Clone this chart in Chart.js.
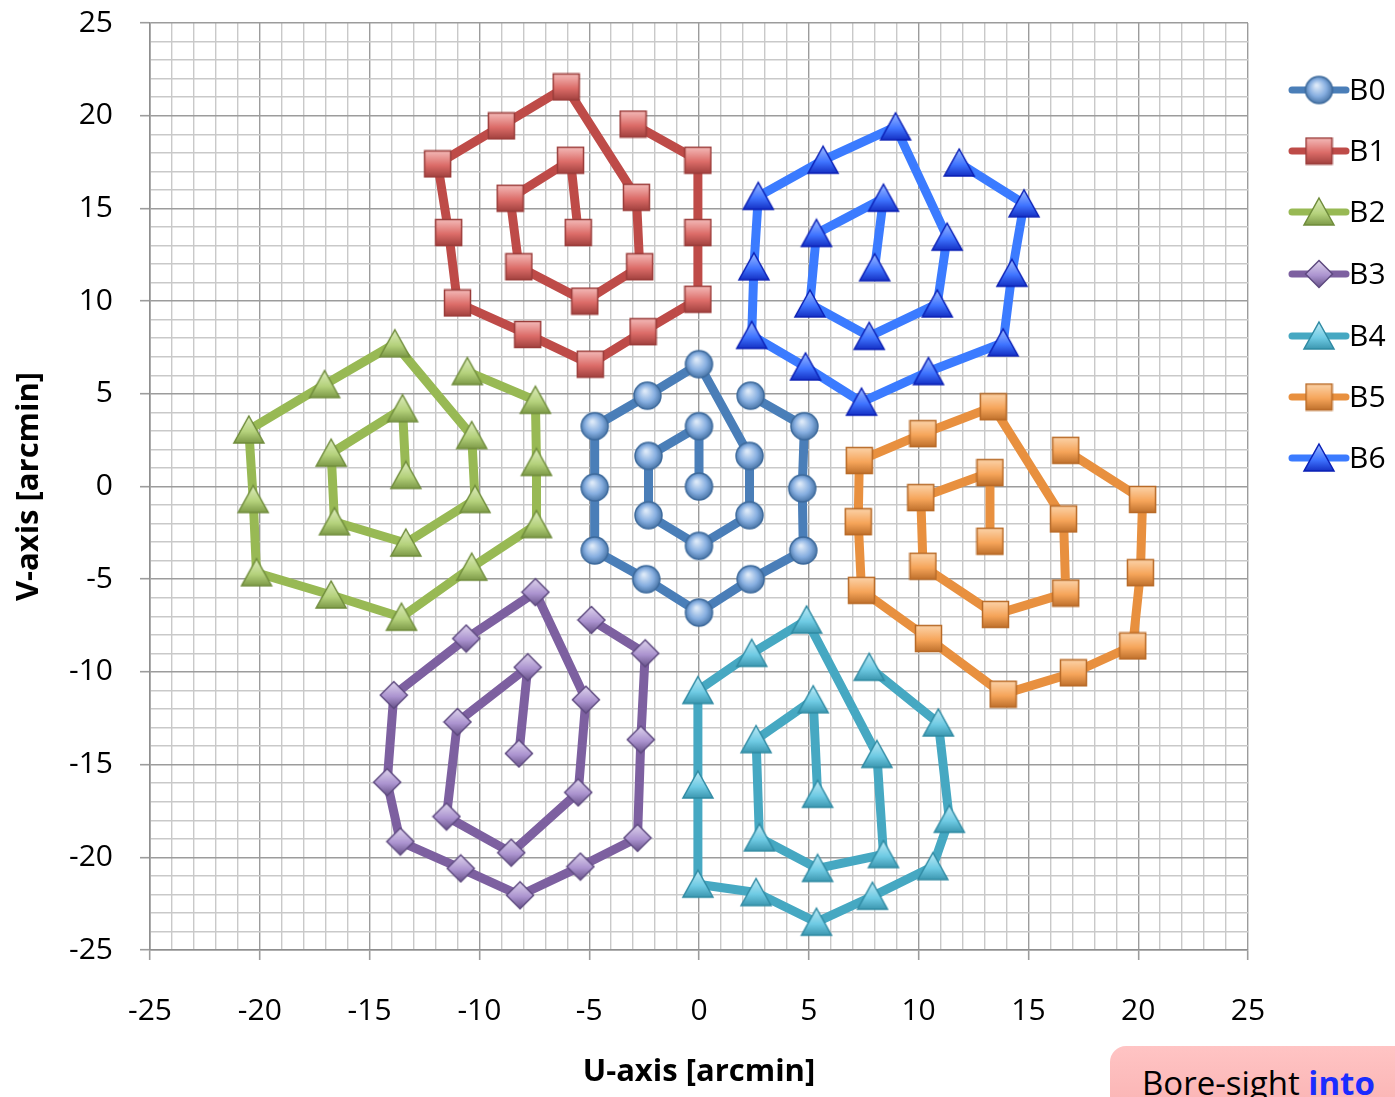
<!DOCTYPE html>
<html>
<head>
<meta charset="utf-8">
<script src="https://cdn.jsdelivr.net/npm/chart.js@4.4.1/dist/chart.umd.min.js"></script>
<style>
  html, body { margin:0; padding:0; background:#fff; overflow:hidden; }
  #wrap { position:relative; width:1395px; height:1097px; overflow:hidden; }
  #c { position:absolute; left:0; top:0; }
  #note { position:absolute; left:1110px; top:1046px; width:340px; height:90px;
    border-radius:16px; background:linear-gradient(to bottom,#ffc4c4 0%,#fbb6b6 60%,#e06a6a 100%);
    font-family:"Open Sans",sans-serif; font-size:33px; color:#000; white-space:nowrap; }
  #note span.t { position:absolute; left:32px; top:14px; }
  #note b { color:#1a2cff; }
</style>
</head>
<body>
<div id="wrap">
<canvas id="c" width="1395" height="1097"></canvas>
<div id="note"><span class="t">Bore-sight <b>into</b></span></div>
</div>
<script>
// ---- data (arcmin) ----
const seriesNames = ["B0","B1","B2","B3","B4","B5","B6"];
const xTickLabels = [-25,-20,-15,-10,-5,0,5,10,15,20,25];
const yTickLabels = [-25,-20,-15,-10,-5,0,5,10,15,20,25];

const B0_U = [0,0,-2.3,-2.3,0,2.3,2.3,0,-2.35,-4.75,-4.75,-4.75,-2.4,0,2.35,4.75,4.7,4.8,2.35];
const B0_V = [0,3.25,1.65,-1.55,-3.2,-1.55,1.65,6.6,4.9,3.25,-0.05,-3.45,-5.0,-6.8,-5.0,-3.45,-0.1,3.25,4.9];

const B1_U = [-5.5,-5.85,-8.6,-8.2,-5.2,-2.7,-2.85,-6.05,-9.0,-11.9,-11.4,-11.0,-7.8,-4.95,-2.55,-0.05,-0.05,-0.05,-3.0];
const B1_V = [13.7,17.6,15.55,11.85,10.0,11.85,15.6,21.55,19.45,17.4,13.7,9.9,8.2,6.6,8.35,10.1,13.7,17.6,19.55];

const B2_U = [-13.35,-13.5,-16.75,-16.6,-13.35,-10.2,-10.35,-13.85,-17.05,-20.5,-20.3,-20.15,-16.75,-13.55,-10.35,-7.4,-7.4,-7.45,-10.55];
const B2_V = [0.6,4.2,1.8,-1.9,-3.05,-0.7,2.75,7.7,5.5,3.05,-0.7,-4.65,-5.85,-7.05,-4.35,-2.05,1.3,4.65,6.2];

const B3_U = [-8.2,-7.8,-11.0,-11.5,-8.55,-5.5,-5.15,-7.45,-10.6,-13.9,-14.2,-13.6,-10.85,-8.15,-5.4,-2.8,-2.65,-2.45,-4.9];
const B3_V = [-14.4,-9.75,-12.7,-17.8,-19.75,-16.5,-11.5,-5.7,-8.2,-11.25,-15.95,-19.15,-20.6,-22.05,-20.5,-18.95,-13.65,-9.0,-7.2];

const B4_U = [5.4,5.2,2.6,2.75,5.4,8.4,8.1,4.9,2.4,-0.05,-0.05,-0.05,2.6,5.35,7.9,10.65,11.4,10.9,7.75];
const B4_V = [-16.6,-11.5,-13.65,-18.95,-20.6,-19.85,-14.45,-7.2,-9.0,-11.0,-16.1,-21.45,-21.9,-23.5,-22.1,-20.5,-17.95,-12.75,-9.75];

const B5_U = [13.25,13.25,10.1,10.2,13.5,16.7,16.6,13.4,10.2,7.3,7.25,7.4,10.45,13.85,17.05,19.75,20.1,20.2,16.7];
const B5_V = [-2.95,0.75,-0.6,-4.3,-6.9,-5.75,-1.75,4.3,2.85,1.4,-1.9,-5.6,-8.2,-11.2,-10.05,-8.6,-4.65,-0.7,1.95];

const B6_U = [8.0,8.4,5.35,5.05,7.75,10.85,11.3,8.95,5.65,2.7,2.5,2.4,4.85,7.4,10.45,13.85,14.25,14.8,11.85];
const B6_V = [11.8,15.55,13.65,9.85,8.1,9.85,13.45,19.4,17.6,15.65,11.85,8.15,6.45,4.55,6.2,7.75,11.5,15.25,17.45];

const allU = [B0_U,B1_U,B2_U,B3_U,B4_U,B5_U,B6_U];
const allV = [B0_V,B1_V,B2_V,B3_V,B4_V,B5_V,B6_V];

// ---- styles ----
const lineColors = ["#4a7eb8","#be4b48","#98b954","#7d60a0","#46a8c2","#e8903f","#3b7bff"];
const markerShapes = ["circle","square","triangle","diamond","triangle","square","triangle"];
const markerLight = ["#dce9f8","#f6c2c0","#e2efc6","#e4dbf0","#c8eef8","#fcd7b0","#a9c3ff"];
const markerMid   = ["#86aee0","#dc6c68","#b5d27c","#ab93cf","#6fcbe4","#f6a55a","#3f74ff"];
const markerDark  = ["#3d6a9c","#9a3c3a","#6f8c3b","#5f4a80","#2f8aa3","#b86a27","#0a1fb5"];

function makeMarker(shape, light, mid, dark) {
  const W = shape === "triangle" ? 34 : (shape === "circle" ? 31 : (shape === "diamond" ? 30 : 29));
  const H = shape === "triangle" ? 32 : W;
  const cv = document.createElement("canvas");
  cv.width = W; cv.height = H;
  const g = cv.getContext("2d");
  g.beginPath();
  if (shape === "circle") {
    g.arc(W/2, H/2, 13.5, 0, Math.PI*2);
  } else if (shape === "square") {
    g.rect(1.5, 1.5, W-3, H-3);
  } else if (shape === "triangle") {
    g.moveTo(W/2, 2); g.lineTo(W-2, H-3); g.lineTo(2, H-3); g.closePath();
  } else {
    g.moveTo(W/2, 1.5); g.lineTo(W-1.5, H/2); g.lineTo(W/2, H-1.5); g.lineTo(1.5, H/2); g.closePath();
  }
  let grad;
  if (shape === "circle") {
    grad = g.createRadialGradient(W*0.42, H*0.35, 1, W/2, H/2, 15);
  } else {
    grad = g.createLinearGradient(0, 0, 0, H);
  }
  grad.addColorStop(0, light);
  grad.addColorStop(0.55, mid);
  grad.addColorStop(1, dark);
  g.fillStyle = grad;
  g.fill();
  g.lineWidth = 1.5;
  g.strokeStyle = dark;
  g.stroke();
  return cv;
}

const markers = markerShapes.map((s, i) => makeMarker(s, markerLight[i], markerMid[i], markerDark[i]));

const datasets = seriesNames.map((name, i) => ({
  label: name,
  data: allU[i].map((u, k) => ({x: u, y: allV[i][k]})),
  showLine: true,
  borderColor: lineColors[i],
  backgroundColor: lineColors[i],
  borderWidth: 9,
  borderCapStyle: "round",
  borderJoinStyle: "round",
  pointStyle: markers[i],
  pointRadius: 14,
  pointHoverRadius: 14,
  tension: 0
}));

const legendYs = [90,151,212,274,336,397,458];
const legendPlugin = {
  id: "sideLegend",
  afterDraw(chart) {
    const ctx = chart.ctx;
    ctx.save();
    chart.data.datasets.forEach((ds, i) => {
      const y = legendYs[i];
      ctx.beginPath();
      ctx.lineCap = "round";
      ctx.lineWidth = 7;
      ctx.strokeStyle = ds.borderColor;
      ctx.moveTo(1292, y); ctx.lineTo(1346, y);
      ctx.stroke();
      const m = ds.pointStyle;
      ctx.drawImage(m, 1319 - m.width/2, y - m.height/2);
      ctx.fillStyle = "#000";
      ctx.font = "30px 'Open Sans'";
      ctx.textBaseline = "middle";
      ctx.textAlign = "left";
      ctx.fillText(ds.label, 1349, y + 1);
    });
    ctx.restore();
  }
};

const majorGrid = "#9c9c9c", minorGrid = "#c9c9c9";
function axisOpts(titleText, isX) {
  return {
    type: "linear",
    min: -25, max: 25,
    afterFit(s) {
      if (isX) { s.height = 147; s.paddingLeft = 0; s.paddingRight = 0; }
      else { s.width = 150; s.paddingTop = 0; s.paddingBottom = 0; }
    },
    afterBuildTicks(s) {
      const t = []; for (let v = -25; v <= 25; v++) t.push({value: v}); s.ticks = t;
    },
    ticks: {
      autoSkip: false,
      maxRotation: 0,
      padding: isX ? 33 : 27,
      color: "#000",
      font: {family: "'Open Sans'", size: 30},
      callback: v => ((isX ? xTickLabels : yTickLabels).includes(v) ? String(v) : "")
    },
    grid: {
      color: c => (c.tick && c.tick.value % 5 === 0 ? majorGrid : minorGrid),
      lineWidth: 1.4,
      tickLength: 10,
      tickColor: c => (c.tick && c.tick.value % 5 === 0 ? majorGrid : "rgba(0,0,0,0)"),
      tickWidth: 1.6
    },
    border: { display: true, color: "#8f8f8f", width: 1.6 },
    title: {
      display: true,
      text: titleText,
      color: "#000",
      font: {family: "'Open Sans'", size: 31, weight: "bold"},
      padding: isX ? {top: 0, bottom: 6} : {top: 11, bottom: 0}
    }
  };
}

new Chart(document.getElementById("c"), {
  type: "scatter",
  data: { datasets },
  options: {
    responsive: false,
    animation: false,
    devicePixelRatio: 1,
    layout: { padding: {top: 18, right: 147, bottom: 0, left: 0} },
    plugins: { legend: {display: false}, tooltip: {enabled: false} },
    scales: {
      x: axisOpts("U-axis [arcmin]", true),
      y: axisOpts("V-axis [arcmin]", false)
    }
  },
  plugins: [legendPlugin]
});
</script>
</body>
</html>
